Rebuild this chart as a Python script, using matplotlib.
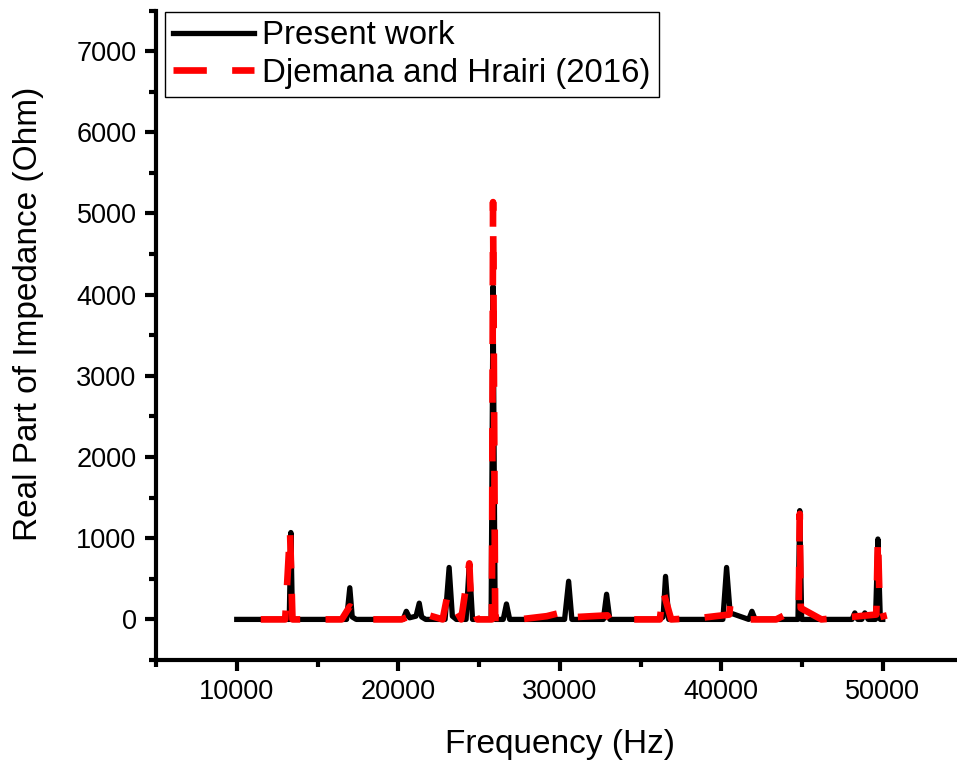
import matplotlib
matplotlib.use("Agg")
import matplotlib.pyplot as plt
from matplotlib.ticker import MultipleLocator

plt.rcParams['font.family'] = ['Liberation Sans', 'DejaVu Sans']

# Present work (frequency in Hz, real part in Ohm)
freq_pw = [10000, 13250, 13350, 13450, 16800, 17000, 17150, 17400,
           20300, 20500, 20700, 21100, 21300, 21450, 21700,
           22900, 23150, 23350, 23600, 24200, 24400, 24600,
           25750, 25870, 26000, 26500, 26700, 26900,
           30300, 30550, 30750, 32700, 32900, 33100,
           36200, 36400, 36550, 36750,
           40100, 40330, 40550, 41700, 41900, 42100,
           44750, 44860, 44980,
           48100, 48270, 48450, 48700, 48890, 49100,
           49550, 49700, 49850, 50000]
real_pw = [0, 0, 1070, 0, 0, 390, 30, 0,
           0, 100, 20, 40, 200, 30, 0,
           0, 640, 40, 0, 0, 690, 0,
           0, 4100, 0, 0, 190, 0,
           0, 470, 0, 0, 310, 0,
           0, 30, 530, 0,
           0, 640, 80, 0, 100, 0,
           0, 1340, 0,
           0, 80, 0, 0, 80, 0,
           0, 990, 0, 0]

# Djemana and Hrairi (2016)
freq_dh = [10000, 13000, 13300, 13450, 16500, 17000, 18300,
           20200, 21300, 22750, 23050, 23900, 24400, 24500, 24900,
           25800, 25870, 26000, 27500, 29200, 30800, 31100, 32950, 33100,
           36200, 36400, 36900, 38800, 40500, 40550, 41800,
           43400, 44800, 44860, 44920, 46200,
           48000, 49600, 49700, 49800, 50100]
real_dh = [0, 0, 1090, 0, 0, 160, 0,
           0, 85, 0, 300, 0, 690, 250, 0,
           0, 5140, 20, 0, 40, 120, 30, 50, 0,
           0, 350, 0, 20, 60, 170, 0,
           0, 140, 1300, 140, 0,
           30, 60, 1000, 250, 0]

fig = plt.figure(figsize=(9.57, 7.62), dpi=100)
ax = fig.add_axes([156 / 957, 102 / 762, 807.5 / 957, 649.5 / 762])

ax.plot(freq_pw, real_pw, color='black', lw=3.8, label='Present work')
ax.plot(freq_dh, real_dh, color='red', lw=4.8, ls=(5.2, (5.0, 3.8)),
        label='Djemana and Hrairi (2016)')

ax.set_xlim(5000, 55000)
ax.set_ylim(-500, 7500)
ax.xaxis.set_major_locator(MultipleLocator(10000))
ax.xaxis.set_minor_locator(MultipleLocator(5000))
ax.yaxis.set_major_locator(MultipleLocator(1000))
ax.yaxis.set_minor_locator(MultipleLocator(500))

for s in ['top', 'right']:
    ax.spines[s].set_visible(False)
for s in ['left', 'bottom']:
    ax.spines[s].set_linewidth(3)

ax.tick_params(which='major', length=8, width=3, labelsize=19.5, pad=6)
ax.tick_params(which='minor', length=5, width=3)

ax.set_xlabel('Frequency (Hz)', fontsize=24)
ax.set_ylabel('Real Part of Impedance (Ohm)', fontsize=24)
ax.xaxis.set_label_coords(0.5, -0.106)
ax.yaxis.set_label_coords(-0.139, 0.533)

leg = ax.legend(loc='upper left', bbox_to_anchor=(0.011, 0.998),
                fontsize=23.75, frameon=True, fancybox=False,
                edgecolor='black', framealpha=1, borderpad=0.25,
                labelspacing=0.2, handlelength=2.45, handletextpad=0.25,
                borderaxespad=0)
leg.get_frame().set_linewidth(1)
# legend handle starts with a dash like the original
leg.get_lines()[1].set_linestyle((0, (5.0, 3.8)))

fig.savefig('out.png', dpi=100)
